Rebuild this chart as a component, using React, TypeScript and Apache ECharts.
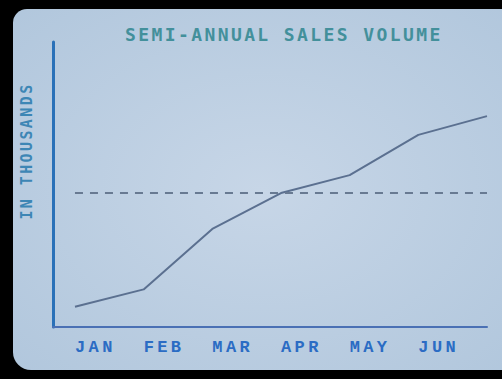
import React, { useEffect, useRef } from "react";
import * as echarts from "echarts";

// Monthly sales volume (thousands of units); the 7th point closes out June.
const months = ["JAN", "FEB", "MAR", "APR", "MAY", "JUN"];
const salesVolume = [7.1, 13.2, 34.4, 47.0, 53.3, 67.4, 74.0];
const targetLevel = 47;
const chartTitle = "SEMI-ANNUAL SALES VOLUME";
const yAxisTitle = "IN THOUSANDS";

const TITLE_FONT = "DejaVu Sans Mono";
const LABEL_FONT = "Liberation Mono";

export default function App() {
  const ref = useRef<HTMLDivElement>(null);

  useEffect(() => {
    document.body.style.margin = "0";
    document.body.style.background = "#000";
    if (!ref.current) return;
    const chart = echarts.init(ref.current, null, { renderer: "svg" });

    chart.setOption({
      animation: false,
      backgroundColor: "#000",
      title: {
        text: chartTitle,
        left: 120,
        top: 20,
        textStyle: {
          fontFamily: TITLE_FONT,
          fontWeight: "bold",
          fontSize: 18,
          color: "#43909b",
        },
      },
      graphic: [
        {
          type: "rect",
          z: -10,
          silent: true,
          shape: { x: 13, y: 9, width: 500, height: 361, r: [14, 0, 10, 18] },
          style: {
            fill: {
              type: "radial",
              x: 0.5,
              y: 0.5,
              r: 0.75,
              colorStops: [
                { offset: 0, color: "#c7d6e7" },
                { offset: 1, color: "#b0c6dc" },
              ],
            },
          },
        },
        {
          type: "text",
          x: 27,
          y: 151,
          rotation: Math.PI / 2,
          style: {
            text: yAxisTitle,
            align: "center",
            verticalAlign: "middle",
            fontFamily: TITLE_FONT,
            fontWeight: "bold",
            fontSize: 15,
            fill: "#3d86b5",
          },
        },
      ],
      grid: { left: 53, right: 15, top: 42, bottom: 52 },
      xAxis: {
        type: "value",
        min: -0.32,
        max: 6,
        axisLine: { show: true, onZero: false, lineStyle: { color: "#4a70b4", width: 2 } },
        axisTick: { show: false },
        splitLine: { show: false },
        axisLabel: {
          customValues: months.map((_, i) => i),
          formatter: (v: number) => months[Math.round(v)] ?? "",
          align: "left",
          margin: 12,
          fontFamily: LABEL_FONT,
          fontWeight: "bold",
          fontSize: 17,
          color: "#2b6cc4",
        },
      },
      yAxis: {
        type: "value",
        min: 0,
        max: 100,
        axisLine: { show: true, onZero: false, lineStyle: { color: "#2a71b8", width: 3 } },
        axisTick: { show: false },
        axisLabel: { show: false },
        splitLine: { show: false },
      },
      series: [
        {
          type: "line",
          data: salesVolume.map((v, i) => [i, v]),
          showSymbol: false,
          lineStyle: { color: "#5b7090", width: 2 },
          markLine: {
            silent: true,
            symbol: "none",
            label: { show: false },
            lineStyle: { color: "#687a92", width: 2, type: [8, 7] },
            data: [
              [
                { coord: [0, targetLevel] },
                { coord: [salesVolume.length - 1, targetLevel] },
              ],
            ],
          },
        },
      ],
    });

    return () => chart.dispose();
  }, []);

  return (
    <>
      <style>{`
        text[style*="${TITLE_FONT}"], text[font-family*="${TITLE_FONT}"] { letter-spacing: 2.4px; }
        text[style*="${LABEL_FONT}"], text[font-family*="${LABEL_FONT}"] { letter-spacing: 3.4px; }
      `}</style>
      <div ref={ref} style={{ width: 502, height: 379 }} />
    </>
  );
}
